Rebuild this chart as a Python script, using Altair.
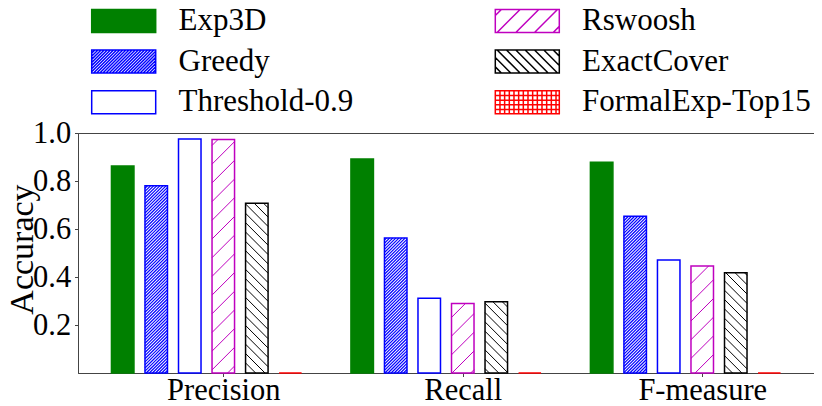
import json
import math
import altair as alt
import pandas as pd

# ---------------- data ----------------
metrics = ["Precision", "Recall", "F-measure"]
series = ["Exp3D", "Greedy", "Threshold-0.9", "Rswoosh", "ExactCover", "FormalExp-Top15"]

exp3d      = [0.862, 0.892, 0.878]
greedy     = [0.780, 0.562, 0.653]
threshold  = [0.975, 0.311, 0.471]
rswoosh    = [0.973, 0.290, 0.446]
exactcover = [0.707, 0.297, 0.418]
formalexp  = [0.000, 0.000, 0.000]
values = [exp3d, greedy, threshold, rswoosh, exactcover, formalexp]

y_ticks = [0.2, 0.4, 0.6, 0.8, 1.0]

# ---------------- styles ----------------
fills = ["#008000", "#ffffff", "#ffffff", "#ffffff", "#ffffff", "#ffffff"]
edges = ["#008000", "#0000ff", "#0000ff", "#bf00bf", "#000000", "#ff0000"]
# (kind, spacing px, line width)
hatches = [None, ("/", 3.1, 1.2), None, ("/", 18.7, 1.0), ("\\", 9.35, 1.0), ("+", 4.67, 1.0)]

FONT = "Liberation Serif"
W, H = 736, 240
PITCH, BW = 0.14, 0.094

lo = -BW / 2
hi = (len(metrics) - 1) + (len(series) - 1) * PITCH + BW / 2
mrg = 0.05 * (hi - lo)
XMIN, XMAX = lo - mrg, hi + mrg
KX, KY = W / (XMAX - XMIN), H / 1.0

rows = []
for gi, met in enumerate(metrics):
    for si, s in enumerate(series):
        cx = gi + si * PITCH
        rows.append({"metric": met, "series": s, "xa": cx - BW / 2, "xb": cx + BW / 2,
                     "ya": values[si][gi], "yb": 0.0})
bars = pd.DataFrame(rows)


def segs_for(xa, xb, top, kind, step):
    XL, XR, YT = (xa - XMIN) * KX, (xb - XMIN) * KX, top * KY
    out = []
    if YT <= 0.5:
        return []
    if kind == "/":
        for k in range(math.floor(-XR / step), math.ceil((YT - XL) / step) + 1):
            c = k * step
            a = max(XL, -c)
            b = min(XR, YT - c)
            if b - a > 0.2:
                out.append((a, a + c, b, b + c))
    elif kind == "\\":
        for k in range(math.floor(XL / step), math.ceil((XR + YT) / step) + 1):
            c = k * step
            a = max(XL, c - YT)
            b = min(XR, c)
            if b - a > 0.2:
                out.append((a, c - a, b, c - b))
    elif kind == "+":
        for k in range(math.ceil(XL / step), math.floor(XR / step) + 1):
            out.append((k * step, 0, k * step, YT))
        for k in range(1, math.floor(YT / step) + 1):
            out.append((XL, k * step, XR, k * step))
    return [{"xa": a / KX + XMIN, "ya": y1 / KY, "xb": b / KX + XMIN, "yb": y2 / KY}
            for a, y1, b, y2 in out]


SW, SH = 64, 23


def swatch(h):
    hw, hh = SW / 2, SH / 2
    p = f"M{-hw},{-hh}H{hw}V{hh}H{-hw}Z"
    if h is None:
        return p
    kind, step, _ = h
    segs = []
    if kind == "/":
        for k in range(math.floor((-hw - hh) / step), math.ceil((hw + hh) / step) + 1):
            c = k * step
            a = max(-hw, c - hh)
            b = min(hw, c + hh)
            if b - a > 0.3:
                segs.append((a, c - a, b, c - b))
    elif kind == "\\":
        for k in range(math.floor((-hw - hh) / step), math.ceil((hw + hh) / step) + 1):
            c = k * step
            a = max(-hw, -hh - c)
            b = min(hw, hh - c)
            if b - a > 0.3:
                segs.append((a, a + c, b, b + c))
    elif kind == "+":
        x = -hw + step
        while x < hw - 0.3:
            segs.append((x, -hh, x, hh))
            x += step
        y = -hh + step
        while y < hh - 0.3:
            segs.append((-hw, y, hw, y))
            y += step
    for a, y1, b, y2 in segs:
        p += f"M{a:.2f},{y1:.2f}L{b:.2f},{y2:.2f}"
    return p


legend_order = list(series)  # legend columns are filled top-to-bottom

fill_scale = alt.Scale(domain=legend_order, range=fills)
stroke_scale = alt.Scale(domain=legend_order, range=edges)
shape_scale = alt.Scale(domain=legend_order, range=[swatch(h) for h in hatches])

tick_vals = [g + 3 * PITCH for g in range(len(metrics))]
label_expr = f"{json.dumps(metrics)}[round(datum.value - {3 * PITCH})]"

xaxis = alt.Axis(values=tick_vals, labelExpr=label_expr, title=None, grid=False,
                 tickSize=3.5, labelPadding=-1.5, labelFontSize=30.5, labelFlush=False,
                 labelOverlap=False)
yaxis = alt.Axis(values=y_ticks, format=".1f", title="Accuracy", grid=False,
                 tickSize=3.5, labelPadding=3.8, labelFontSize=30.5, titleFontSize=34,
                 titleFontWeight="normal", titleX=-46, titleY=116, titleAngle=270,
                 titleAlign="center", titleBaseline="alphabetic", labelFlush=False)

xenc = alt.X("xa:Q", scale=alt.Scale(domain=[XMIN, XMAX], nice=False, zero=False), axis=xaxis)
yenc = alt.Y("ya:Q", scale=alt.Scale(domain=[0, 1], nice=False, zero=False), axis=yaxis)

leg = alt.Legend(orient="none", legendX=13.7, legendY=-127.8, columns=2, title=None,
                 symbolSize=4, symbolOffset=16.5, labelOffset=39.3, symbolStrokeWidth=1.5,
                 labelFontSize=31, labelFont=FONT, labelColor="black", labelLimit=500,
                 rowPadding=8.8, columnPadding=138.6, padding=0, symbolOpacity=1)

legend_layer = alt.Chart(bars).transform_filter("false").mark_point(filled=True, opacity=1).encode(
    x=xenc, y=yenc,
    shape=alt.Shape("series:N", scale=shape_scale, legend=leg),
    fill=alt.Fill("series:N", scale=fill_scale, legend=leg),
    stroke=alt.Stroke("series:N", scale=stroke_scale, legend=leg),
)

bar_layer = alt.Chart(bars).mark_rect(strokeWidth=1.5, opacity=1).encode(
    x=xenc, x2=alt.X2("xb"), y=yenc, y2=alt.Y2("yb"),
    fill=alt.Fill("series:N", scale=fill_scale, legend=leg),
    stroke=alt.Stroke("series:N", scale=stroke_scale, legend=leg),
)

layers = [legend_layer, bar_layer]
for si, h in enumerate(hatches):
    if h is None:
        continue
    segs = []
    sub = bars[bars["series"] == series[si]]
    for _, r in sub.iterrows():
        segs += segs_for(r["xa"], r["xb"], r["ya"], h[0], h[1])
    if not segs:
        continue
    layers.append(
        alt.Chart(pd.DataFrame(segs)).mark_rule(color=edges[si], strokeWidth=h[2]).encode(
            x=xenc, x2=alt.X2("xb"), y=yenc, y2=alt.Y2("yb"))
    )

chart = alt.layer(*layers).properties(
    width=W, height=H,
    autosize=alt.AutoSizeParams(type="none"),
    padding={"left": 70, "top": 125, "right": 0, "bottom": 33},
).configure(font=FONT).configure_view(stroke="#444", strokeWidth=1).configure_axis(
    labelColor="black", titleColor="black", domainColor="#444", tickColor="#444",
    labelFont=FONT, titleFont=FONT,
)

chart.save("out.html", embed_options={"renderer": "svg", "actions": False})
